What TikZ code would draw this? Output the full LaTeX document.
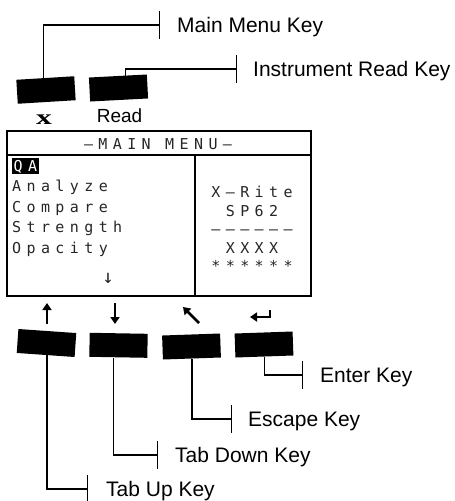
\documentclass[tikz,border=0pt]{standalone}
\usepackage{fontspec}
\setmainfont{Liberation Sans}
\newfontfamily\lcdfont[LetterSpace=36]{DejaVu Sans Mono}
\newfontfamily\keyfont{Liberation Serif}
\usetikzlibrary{arrows.meta,positioning}

\tikzset{
  key/.style={fill=black, minimum width=58pt, minimum height=24pt, inner sep=0pt},
  lbl/.style={anchor=west, inner sep=0pt, text height=15pt, text depth=0pt, font=\fontsize{21}{25}\selectfont},
  leader/.style={line width=1.3pt, -{Bar[width=28pt]}},
  lcd/.style={inner sep=0pt, anchor=base west, text=black!85, font=\lcdfont\fontsize{15}{17}\selectfont},
  glyph/.style={line width=2.6pt, -{Triangle[length=7pt,width=9pt]}}
}

\begin{document}
\begin{tikzpicture}[x=1pt,y=-1pt]
  \useasboundingbox (0,0) rectangle (455,501);
  % keys above the screen
  \node[key, rotate=3.5] (kmenu) at (46,90) {}; \node[key, rotate=3] (kread) at (118.5,88) {};
  \node[anchor=base, inner sep=0pt, xscale=1.5, font=\keyfont\bfseries\fontsize{21}{24}\selectfont] (xlbl) at (44,124) {x};
  \node[anchor=base, inner sep=0pt, font=\fontsize{19}{22}\selectfont] (readlbl) at (119.5,122) {Read};
  \node[lbl] (lmenu) at (177,25) {Main Menu Key}; \node[lbl] (lread) at (253,69) {Instrument Read Key};
  \draw[leader] ([xshift=-2pt]kmenu.north) |- ([xshift=-17pt]lmenu.west);
  \draw[leader] ([xshift=7.5pt]kread.north) |- ([xshift=-16pt]lread.west);
  % screen
  \draw[line width=2pt] (7,131) rectangle (311,296);
  \draw[line width=2pt] (7,154.5) -- (311,154.5) (194.5,154.5) -- (194.5,296);
  \node[lcd, anchor=base] (title) at (158,149) {—MAIN MENU—};
  \node[lcd, fill=black, text=white, inner sep=1.5pt] (qa) at (12,171) {QA};
  \node[lcd] (analyze) at (12,191.5) {Analyze}; \node[lcd] (compare) at (12,212) {Compare};
  \node[lcd] (strength) at (12,232.5) {Strength}; \node[lcd] (opacity) at (12,253) {Opacity};
  \node[lcd, anchor=base, font=\lcdfont\fontsize{19}{20}\selectfont] (more) at (108,283) {↓};
  \node[lcd, anchor=base] (brand) at (252,197) {X—Rite}; \node[lcd, anchor=base] (model) at (252,216.5) {SP62};
  \node[lcd, anchor=base] (rule) at (252,234) {——————}; \node[lcd, anchor=base] (serial) at (252,253) {XXXX};
  \node[lcd, anchor=base] (stars) at (252,271) {******};
  % key symbols
  \draw[glyph] (47,324) -- (47,303); \draw[glyph] (115,303) -- (115,324);
  \draw[glyph] (199,323) -- (183,307); \draw[glyph] (270,310) -- (270,317) -- (250,317);
  % keys below the screen
  \node[key, rotate=-4] (kup) at (46.5,343) {}; \node[key, rotate=-1] (kdown) at (118.5,345.3) {};
  \node[key, rotate=2] (kesc) at (191.5,346.5) {}; \node[key, rotate=2] (kenter) at (264,344.5) {};
  \node[lbl] (lenter) at (320,375) {Enter Key}; \node[lbl] (lesc) at (248,419) {Escape Key};
  \node[lbl] (ldown) at (175,455) {Tab Down Key}; \node[lbl] (lup) at (106,489) {Tab Up Key};
  \draw[leader] (kenter.south) |- ([xshift=-17pt]lenter.west);
  \draw[leader] (kesc.south) |- ([xshift=-16pt]lesc.west);
  \draw[leader] ([xshift=-4.5pt]kdown.south) |- ([xshift=-17pt]ldown.west);
  \draw[leader] ([xshift=1.5pt]kup.south) |- ([xshift=-18pt]lup.west);
\end{tikzpicture}
\end{document}
